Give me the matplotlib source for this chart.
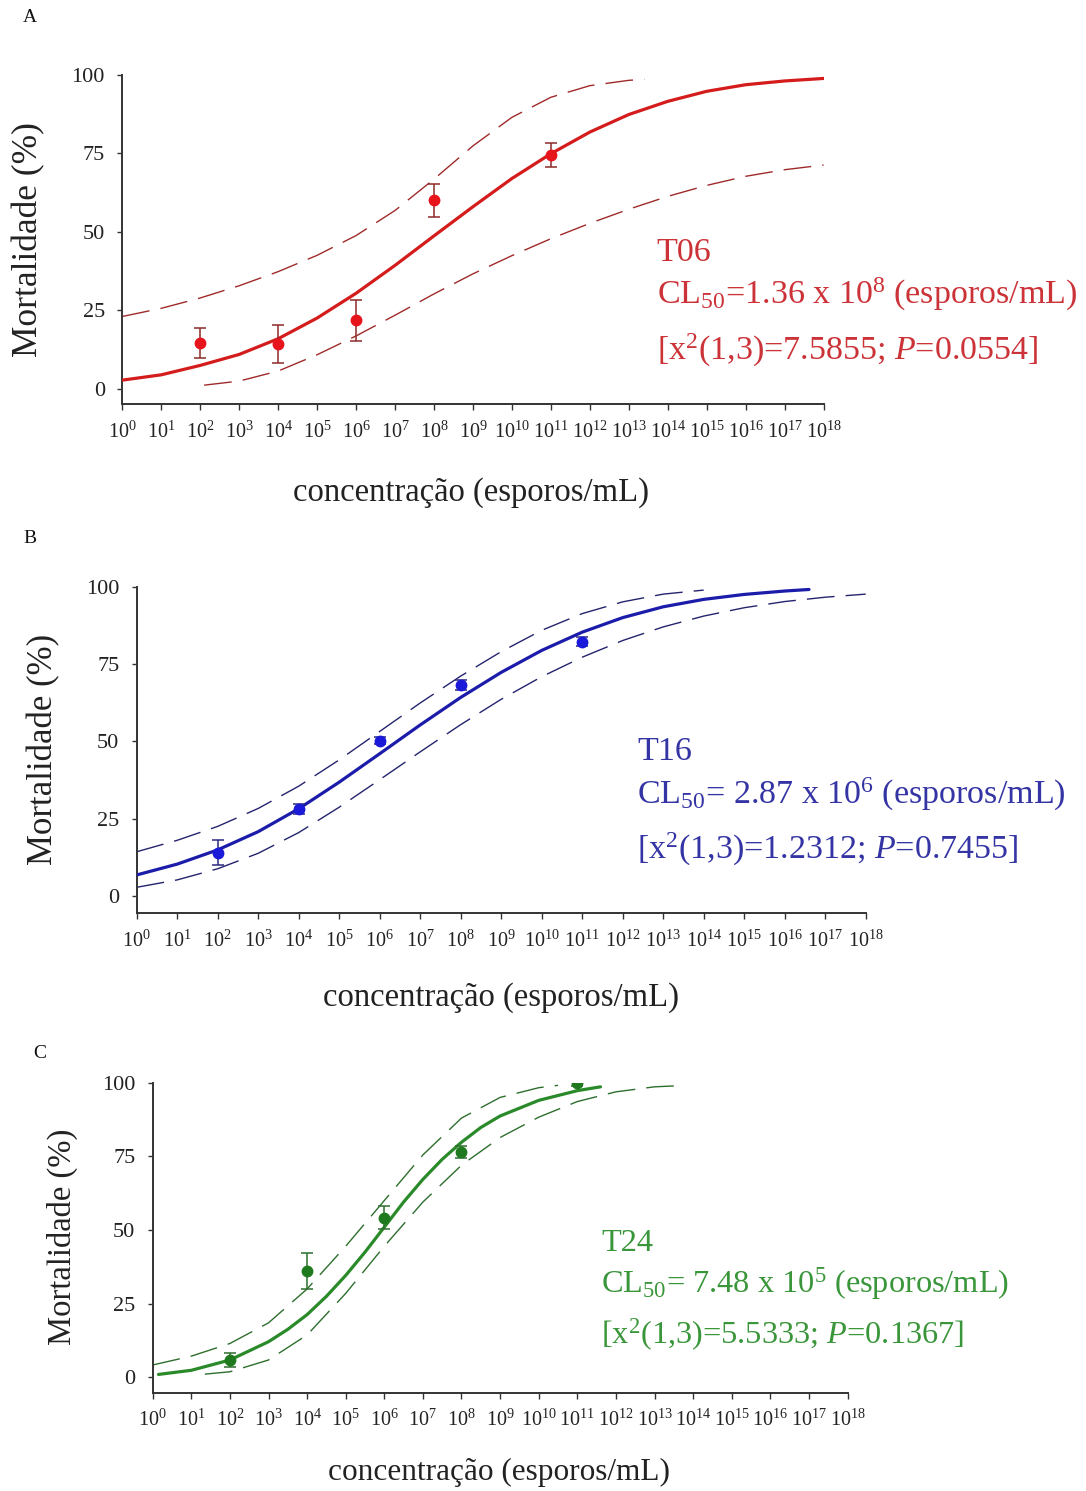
import matplotlib
matplotlib.use("Agg")
import matplotlib.pyplot as plt
from matplotlib.ticker import NullLocator

plt.rcParams["font.family"] = ["Liberation Serif", "DejaVu Serif"]
plt.rcParams["mathtext.fontset"] = "custom"
plt.rcParams["mathtext.rm"] = "Liberation Serif"
plt.rcParams["mathtext.it"] = "Liberation Serif:italic"
plt.rcParams["mathtext.bf"] = "Liberation Serif:bold"

# ---------------------------------------------------------------------------
# Data (concentrations given as log10 of spores/mL, mortality in %)
# ---------------------------------------------------------------------------
# T06
t06_dose = [2, 4, 6, 8, 11]
t06_mort = [14.5, 14.3, 21.8, 60.0, 74.5]
t06_err = [4.8, 6.0, 6.6, 5.3, 3.8]
t06_fit_x = list(range(0, 19))
t06_fit_y = [2.7, 4.4, 7.4, 10.9, 15.9, 22.5, 30.4, 39.3, 48.7, 58.0,
             67.0, 74.9, 81.8, 87.4, 91.6, 94.8, 96.9, 98.1, 98.9]
t06_up_x = [0, 1, 2, 3, 4, 5, 6, 7, 8, 9, 10, 11, 12, 13, 13.4]
t06_up_y = [23.0, 25.6, 28.9, 32.8, 37.3, 42.5, 48.8, 56.8, 66.8, 77.4,
            86.5, 92.9, 96.6, 98.3, 98.6]
t06_lo_x = [2.1, 3, 4, 5, 6, 7, 8, 9, 10, 11, 12, 13, 14, 15, 16, 17, 18]
t06_lo_y = [1.1, 2.4, 5.6, 10.8, 16.8, 23.4, 30.2, 36.6, 42.4, 47.8,
            52.7, 57.2, 61.3, 64.8, 67.7, 69.8, 71.3]

# T16
t16_dose = [2, 4, 6, 8, 11]
t16_mort = [14.0, 28.1, 50.2, 68.2, 82.2]
t16_err = [4.1, 1.5, 1.2, 1.5, 1.5]
t16_fit_x = list(range(0, 17)) + [16.6]
t16_fit_y = [6.8, 10.3, 14.9, 20.8, 28.2, 36.8, 46.0, 55.3, 64.2, 72.3,
             79.4, 85.3, 90.0, 93.5, 95.9, 97.5, 98.6, 99.1]
t16_up_x = list(range(0, 15))
t16_up_y = [14.3, 18.0, 22.5, 28.3, 35.5, 44.0, 53.2, 62.4, 71.1, 79.0,
            85.9, 91.3, 95.1, 97.6, 98.9]
t16_lo_x = list(range(0, 19))
t16_lo_y = [2.8, 5.2, 8.8, 13.8, 20.5, 28.7, 37.6, 46.6, 55.4, 63.6,
            70.9, 77.2, 82.6, 87.0, 90.5, 93.2, 95.2, 96.6, 97.6]

# T24
t24_dose = [2, 4, 6, 8, 11]
t24_mort = [5.9, 36.1, 54.2, 76.6, 99.8]
t24_err = [2.4, 6.0, 4.0, 2.0, 1.0]
t24_fit_x = [0.15, 1, 2, 3, 3.5, 4, 4.5, 5, 5.5, 6, 6.5, 7, 7.5, 8, 8.5,
             9, 10, 11, 11.6]
t24_fit_y = [1.0, 2.4, 5.9, 12.1, 16.3, 21.3, 27.5, 34.6, 42.5, 51.0,
             59.5, 67.2, 74.0, 79.8, 84.8, 88.7, 94.0, 97.3, 98.6]
t24_up_x = [0, 1, 2, 3, 4, 5, 6, 7, 8, 9, 10, 10.5]
t24_up_y = [4.2, 7.2, 11.5, 18.5, 30.0, 44.5, 60.0, 75.5, 88.0, 95.0,
            98.3, 99.1]
t24_lo_x = [1.35, 2, 3, 4, 5, 6, 7, 8, 9, 10, 11, 12, 13, 13.5]
t24_lo_y = [1.1, 1.9, 5.9, 14.4, 28.5, 44.5, 59.5, 72.0, 81.4, 88.3,
            93.6, 96.9, 98.6, 98.9]

decades = list(range(0, 19))
y_ticks = [0, 25, 50, 75, 100]

W, H = 1086, 1491
fig = plt.figure(figsize=(W / 100, H / 100), dpi=100)


def ax_rect(left, right, top, bottom):
    return [left / W, 1 - bottom / H, (right - left) / W, (bottom - top) / H]


panels = [
    dict(letter="A", letter_xy=(30, 18),
         rect=ax_rect(122.3, 823.6, 75.0, 404.3), ymin=-5.0,
         dose=t06_dose, mort=t06_mort, err=t06_err,
         fit=(t06_fit_x, t06_fit_y), up=(t06_up_x, t06_up_y), lo=(t06_lo_x, t06_lo_y),
         line="#d41c1c", marker="#e8141c", ecolor="#8e2a2a", dash="#a02a2a",
         text="#cc3338", text_fs=24.5,
         lines=["T06",
                r"CL$_{50}$=1.36 x 10$^8$ (esporos/mL)",
                r"[x$^2$(1,3)=7.5855; $\mathit{P}$=0.0554]"],
         text_x=656.7, text_y=[261, 304, 360],
         ylab=(-0.110, 0.5), xlab=(0.497, -0.222), ylab_fs=25.5, xlab_fs=23.5),
    dict(letter="B", letter_xy=(30, 538),
         rect=ax_rect(136.7, 865.7, 586.7, 913.3), ymin=-5.6,
         dose=t16_dose, mort=t16_mort, err=t16_err,
         fit=(t16_fit_x, t16_fit_y), up=(t16_up_x, t16_up_y), lo=(t16_lo_x, t16_lo_y),
         line="#1c1caa", marker="#1a1ad8", ecolor="#2a2a80", dash="#24246e",
         text="#3434a4", text_fs=24.5,
         lines=["T16",
                r"CL$_{50}$= 2.87 x 10$^6$ (esporos/mL)",
                r"[x$^2$(1,3)=1.2312; $\mathit{P}$=0.7455]"],
         text_x=637, text_y=[760, 804, 859],
         ylab=(-0.105, 0.503), xlab=(0.4997, -0.211), ylab_fs=25, xlab_fs=23.5),
    dict(letter="C", letter_xy=(40, 1053),
         rect=ax_rect(152.7, 847.5, 1082.7, 1392.7), ymin=-5.2,
         dose=t24_dose, mort=t24_mort, err=t24_err,
         fit=(t24_fit_x, t24_fit_y), up=(t24_up_x, t24_up_y), lo=(t24_lo_x, t24_lo_y),
         line="#2a8a2a", marker="#1f7a1f", ecolor="#2e6e2e", dash="#2e6e2e",
         text="#3a963a", text_fs=23.3,
         lines=["T24",
                r"CL$_{50}$= 7.48 x 10$^5$ (esporos/mL)",
                r"[x$^2$(1,3)=5.5333; $\mathit{P}$=0.1367]"],
         text_x=601, text_y=[1251, 1293, 1344],
         ylab=(-0.1075, 0.502), xlab=(0.498, -0.212), ylab_fs=23.5, xlab_fs=22.5),
]

for p in panels:
    ax = fig.add_axes(p["rect"])
    ax.set_xscale("log")

    fx, fy = p["fit"]
    ux, uy = p["up"]
    lx, ly = p["lo"]
    ax.plot([10.0 ** v for v in ux], uy, color=p["dash"], lw=1.0,
            dashes=(20, 8), zorder=2)
    ax.plot([10.0 ** v for v in lx], ly, color=p["dash"], lw=1.0,
            dashes=(20, 8), zorder=2)
    ax.plot([10.0 ** v for v in fx], fy, color=p["line"], lw=2.3,
            solid_capstyle="round", solid_joinstyle="round", zorder=3)
    ax.errorbar([10.0 ** v for v in p["dose"]], p["mort"], yerr=p["err"],
                fmt="o", color=p["marker"], ms=7.5, ecolor=p["ecolor"],
                elinewidth=1.1, capsize=4, capthick=1.1, zorder=4)

    ax.set_xlim(1, 1e18)
    ax.set_ylim(p["ymin"], 100)
    ax.set_xticks([10.0 ** k for k in decades])
    ax.set_xticklabels([r"$\mathregular{10^{%d}}$" % k for k in decades])
    ax.xaxis.set_minor_locator(NullLocator())
    ax.set_yticks(y_ticks)
    ax.set_yticklabels([str(v) for v in y_ticks])

    for side in ("top", "right"):
        ax.spines[side].set_visible(False)
    for side in ("left", "bottom"):
        ax.spines[side].set_color("#333333")
        ax.spines[side].set_linewidth(1.4)
    ax.tick_params(axis="x", direction="out", length=4.5, width=1.0,
                   colors="#333333", labelsize=14.5, labelcolor="#222222", pad=8)
    ax.tick_params(axis="y", direction="out", length=3.5, width=1.0,
                   colors="#333333", labelsize=16, labelcolor="#222222", pad=9)

    ax.set_ylabel("Mortalidade (%)", fontsize=p["ylab_fs"], color="#222222")
    ax.yaxis.set_label_coords(*p["ylab"])
    ax.set_xlabel("concentração (esporos/mL)", fontsize=p["xlab_fs"],
                  color="#222222")
    ax.xaxis.set_label_coords(*p["xlab"])

    for txt, ty in zip(p["lines"], p["text_y"]):
        fig.text(p["text_x"] / W, 1 - ty / H, txt, color=p["text"],
                 fontsize=p["text_fs"], ha="left", va="baseline")

    lx_, ly_ = p["letter_xy"]
    fig.text(lx_ / W, 1 - ly_ / H, p["letter"], fontsize=14, ha="center",
             va="center", color="#111111")

fig.savefig("out.png", dpi=100, facecolor="white")
